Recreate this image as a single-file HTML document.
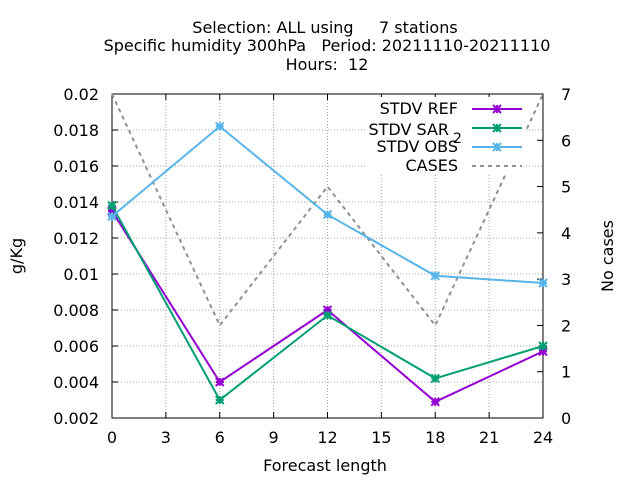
<!DOCTYPE html>
<html><head><meta charset="utf-8"><style>
body{margin:0;background:#fff}
svg text{font-family:"DejaVu Sans","Liberation Sans",sans-serif;font-size:16px;fill:#000}
</style></head><body>
<svg id="c" width="640" height="480">
<g id="grid"></g>
<g id="axes"></g>
<g id="series"></g>
<g id="legend"></g>
<text x="325" y="33" text-anchor="middle" xml:space="preserve">Selection: ALL using     7 stations</text>
<text x="327" y="51" text-anchor="middle" xml:space="preserve">Specific humidity 300hPa   Period: 20211110-20211110</text>
<text x="327" y="70" text-anchor="middle" xml:space="preserve">Hours:  12</text>
<text x="325" y="471" text-anchor="middle">Forecast length</text>
<text transform="translate(22,256) rotate(-90)" text-anchor="middle">g/Kg</text>
<text transform="translate(613,256) rotate(-90)" text-anchor="middle">No cases</text>
</svg>
<script>
const hours=[0,6,12,18,24];
const stdvRef=[0.0135,0.0040,0.0080,0.0029,0.0057];
const stdvSar=[0.0138,0.0030,0.0077,0.0042,0.0060];
const stdvObs=[0.0132,0.0182,0.0133,0.0099,0.0095];
const cases=[7,2,5,2,7];
const xTicks=[0,3,6,9,12,15,18,21,24];
const yTicks=[0.002,0.004,0.006,0.008,0.01,0.012,0.014,0.016,0.018,0.02];
const yTickLabels=["0.002","0.004","0.006","0.008","0.01","0.012","0.014","0.016","0.018","0.02"];
const y2Ticks=[0,1,2,3,4,5,6,7];
const L=112,R=543,T=94,B=418;
const X=v=>L+(v-0)/(24-0)*(R-L);
const Y=v=>B-(v-0.002)/(0.02-0.002)*(B-T);
const Y2=v=>B-v/7*(B-T);
const NS="http://www.w3.org/2000/svg";
function mk(tag,parent,at){const e=document.createElementNS(NS,tag);for(const k in at)e.setAttribute(k,at[k]);parent.appendChild(e);return e;}
const grid=document.getElementById('grid'),axes=document.getElementById('axes'),ser=document.getElementById('series'),leg=document.getElementById('legend');
xTicks.forEach(t=>{
 const g=mk('line',grid,{x1:X(t),x2:X(t),y1:T,y2:B,stroke:'#a0a0a0','stroke-dasharray':'1,2','stroke-width':1});
 
 mk('line',axes,{x1:X(t),x2:X(t),y1:B,y2:B-6,stroke:'#000'});
 mk('line',axes,{x1:X(t),x2:X(t),y1:T,y2:T+6,stroke:'#000'});
 const tx=mk('text',axes,{x:X(t),y:B+25,'text-anchor':'middle'});tx.textContent=t;
 
});
yTicks.forEach((t,i)=>{
 const g=mk('line',grid,{x1:L,x2:R,y1:Y(t),y2:Y(t),stroke:'#a0a0a0','stroke-dasharray':'1,2','stroke-width':1});
 
 mk('line',axes,{x1:L,x2:L+6,y1:Y(t),y2:Y(t),stroke:'#000'});
 const tx=mk('text',axes,{x:L-13,y:Y(t)+6,'text-anchor':'end'});tx.textContent=yTickLabels[i];
 
});
y2Ticks.forEach(t=>{
 mk('line',axes,{x1:R,x2:R-6,y1:Y2(t),y2:Y2(t),stroke:'#000'});
 const tx=mk('text',axes,{x:R+18,y:Y2(t)+6,'text-anchor':'start'});tx.textContent=t;
 
});
mk('rect',axes,{x:L,y:T,width:R-L,height:B-T,fill:'none',stroke:'#000'});
mk('rect',leg,{x:366,y:97,width:160,height:78,fill:'#fff'});
function pts(arr,f){return hours.map((h,i)=>X(h)+','+f(arr[i])).join(' ');}
const cl=mk('polyline',ser,{points:pts(cases,Y2),fill:'none',stroke:'#909090','stroke-width':2,'stroke-dasharray':'4,4'});

function marker(p,x,y,c){mk('path',p,{d:`M${x-4},${y-4}L${x+4},${y+4}M${x-4},${y+4}L${x+4},${y-4}M${x},${y-4}L${x},${y+4}M${x-4},${y}L${x+4},${y}`,stroke:c,'stroke-width':2});}
[[stdvRef,'#9400d3','stdv-ref'],[stdvSar,'#009e73','stdv-sar'],[stdvObs,'#56b4e9','stdv-obs']].forEach(([a,c,n])=>{
 const g=mk('g',ser,{});
 mk('polyline',g,{points:pts(a,Y),fill:'none',stroke:c,'stroke-width':2});
 hours.forEach((h,i)=>marker(g,X(h),Y(a[i]),c));
});
const items=[['STDV REF','#9400d3',109,114,false],['STDV SAR','#009e73',128,135,false],['STDV OBS','#56b4e9',147,152,false],['CASES','#909090',166,171,true]];
items.forEach(([lab,c,y,ty,d],i)=>{
 const g=mk('g',leg,{});
 const tx=mk('text',g,{x:i==1?449:458,y:ty,'text-anchor':'end'});tx.textContent=lab;
 if(i==1){const s=mk('text',g,{x:453,y:143});s.textContent='2';s.style.fontSize='14px';}
 mk('line',g,{x1:472,x2:522,y1:y,y2:y,stroke:c,'stroke-width':2,'stroke-dasharray':d?'4,4':'none'});
 if(!d)marker(g,497,y,c);
});
</script>
</body></html>
